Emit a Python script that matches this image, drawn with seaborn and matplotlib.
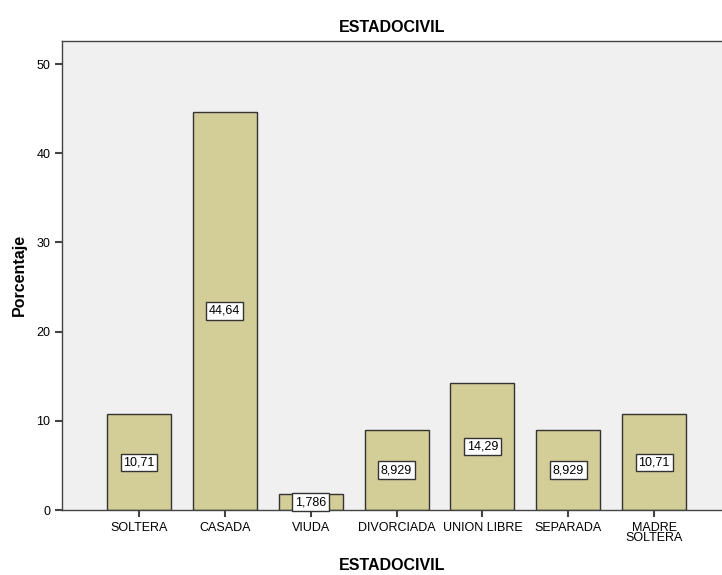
import pandas as pd
import seaborn as sns
import matplotlib.pyplot as plt

categorias = ["SOLTERA", "CASADA", "VIUDA", "DIVORCIADA", "UNION LIBRE", "SEPARADA", "MADRE\nSOLTERA"]
porcentajes = [10.71, 44.64, 1.786, 8.929, 14.29, 8.929, 10.71]
etiquetas = ["10,71", "44,64", "1,786", "8,929", "14,29", "8,929", "10,71"]

df = pd.DataFrame({"ESTADOCIVIL": categorias, "Porcentaje": porcentajes})

sns.set_style("ticks")
plt.rcParams['font.family'] = ['Liberation Sans', 'DejaVu Sans']
plt.rcParams['text.color'] = 'black'
plt.rcParams['axes.labelcolor'] = 'black'
plt.rcParams['xtick.labelcolor'] = 'black'
plt.rcParams['ytick.labelcolor'] = 'black'

fig = plt.figure(figsize=(7.22, 5.75), dpi=100)
ax = fig.add_axes([0.086, 0.113, 0.914, 0.816])
ax.set_facecolor("#F0F0F0")

sns.barplot(data=df, x="ESTADOCIVIL", y="Porcentaje", color="#D3CE97", saturation=1,
            edgecolor="#333333", linewidth=1, width=0.745, ax=ax)

# etiquetas de valor en mitad de cada barra
for i, (v, t) in enumerate(zip(porcentajes, etiquetas)):
    ax.text(i, v / 2, t, ha="center", va="center", fontsize=9,
            bbox=dict(boxstyle="square,pad=0.22", facecolor="white", edgecolor="#333333", linewidth=1))

ax.set_xlim(-0.895, 6.79)
ax.set_ylim(0, 52.6)
ax.set_yticks([0, 10, 20, 30, 40, 50])
ax.tick_params(axis="both", labelsize=9, length=5, width=1.5, color="#444444")
ax.spines["right"].set_visible(False)
for s in ["left", "top", "bottom"]:
    ax.spines[s].set_color("#444444")
    ax.spines[s].set_linewidth(1)

ax.set_title("ESTADOCIVIL", fontsize=11.5, fontweight="bold", pad=6)
ax.set_xlabel("ESTADOCIVIL", fontsize=11.5, fontweight="bold", labelpad=10)
ax.set_ylabel("Porcentaje", fontsize=11.5, fontweight="bold", labelpad=7)
for lbl in ax.get_xticklabels():
    lbl.set_linespacing(0.85)

plt.savefig("out.png", dpi=100)
